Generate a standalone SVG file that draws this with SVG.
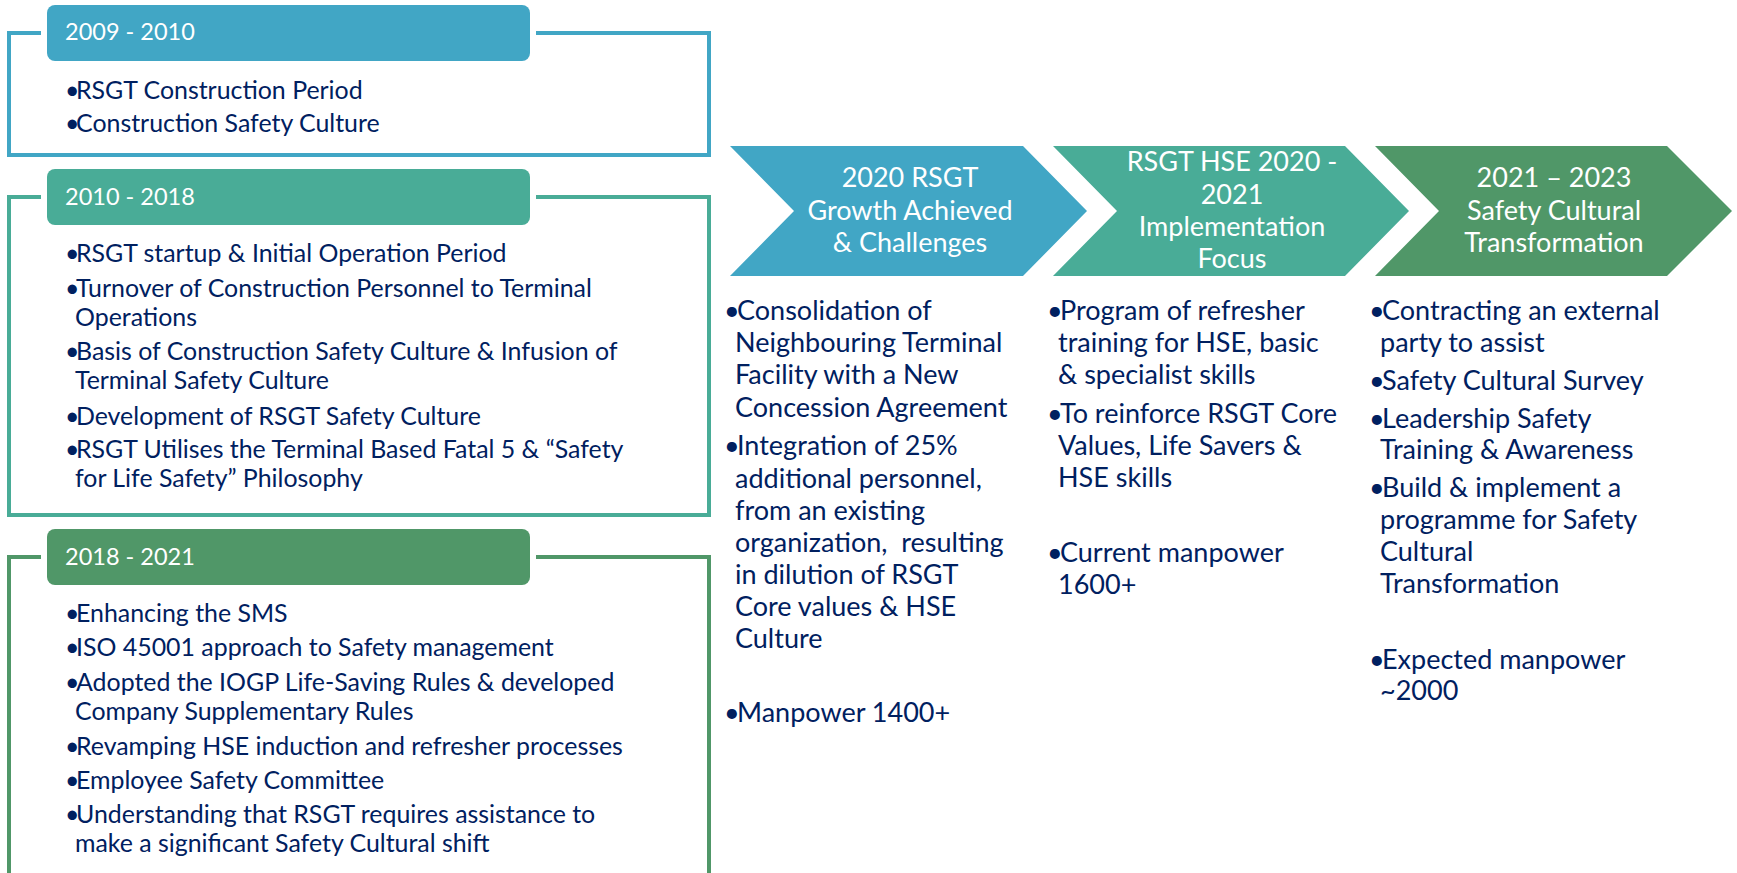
<svg xmlns="http://www.w3.org/2000/svg" width="1737" height="873" viewBox="0 0 1737 873">
<style>
.frame{fill:none;stroke-width:4}
.gap{fill:#fff}
.htxt{font-family:Lato,"Liberation Sans",sans-serif;font-size:23.5px;fill:#fff}
.btxt{font-family:Lato,"Liberation Sans",sans-serif;font-size:24.9px;fill:#002060}
.ctxt{font-family:Lato,"Liberation Sans",sans-serif;font-size:27px;fill:#002060}
.chtxt{font-family:Lato,"Liberation Sans",sans-serif;font-size:27px;fill:#fff;text-anchor:middle}
.blue{fill:#41A6C5}.teal{fill:#49AC97}.green{fill:#509768}
.sblue{stroke:#41A6C5}.steal{stroke:#49AC97}.sgreen{stroke:#509768}
</style>
<rect width="1737" height="873" fill="#fff"/>
<g id="period-2009-2010">
<rect class="frame sblue" x="9" y="33" width="700" height="122"/>
<rect class="gap" x="41" y="0" width="495" height="67" rx="10"/>
<rect class="blue" x="47" y="5" width="483" height="56" rx="8"/>
<text class="htxt" x="65" y="40">2009 - 2010</text>
<text class="btxt"><tspan x="65" y="99">•</tspan><tspan x="76" y="99">RSGT Construction Period</tspan><tspan x="65" y="132">•</tspan><tspan x="76" y="132">Construction Safety Culture</tspan></text>
</g>
<g id="period-2010-2018">
<rect class="frame steal" x="9" y="197" width="700" height="318"/>
<rect class="gap" x="41" y="163" width="495" height="68" rx="10"/>
<rect class="teal" x="47" y="169" width="483" height="56" rx="8"/>
<text class="htxt" x="65" y="205">2010 - 2018</text>
<text class="btxt"><tspan x="65" y="262">•</tspan><tspan x="76" y="262">RSGT startup &amp; Initial Operation Period</tspan><tspan x="65" y="297">•</tspan><tspan x="76" y="297">Turnover of Construction Personnel to Terminal</tspan><tspan x="75" y="326">Operations</tspan><tspan x="65" y="360">•</tspan><tspan x="76" y="360">Basis of Construction Safety Culture &amp; Infusion of</tspan><tspan x="75" y="389">Terminal Safety Culture</tspan><tspan x="65" y="425">•</tspan><tspan x="76" y="425">Development of RSGT Safety Culture</tspan><tspan x="65" y="458">•</tspan><tspan x="76" y="458">RSGT Utilises the Terminal Based Fatal 5 &amp; “Safety</tspan><tspan x="75" y="487">for Life Safety” Philosophy</tspan></text>
</g>
<g id="period-2018-2021">
<rect class="frame sgreen" x="9" y="557" width="700" height="340"/>
<rect class="gap" x="41" y="523" width="495" height="68" rx="10"/>
<rect class="green" x="47" y="529" width="483" height="56" rx="8"/>
<text class="htxt" x="65" y="565">2018 - 2021</text>
<text class="btxt"><tspan x="65" y="622">•</tspan><tspan x="76" y="622">Enhancing the SMS</tspan><tspan x="65" y="656">•</tspan><tspan x="76" y="656">ISO 45001 approach to Safety management</tspan><tspan x="65" y="691">•</tspan><tspan x="76" y="691">Adopted the IOGP Life-Saving Rules &amp; developed</tspan><tspan x="75" y="720">Company Supplementary Rules</tspan><tspan x="65" y="755">•</tspan><tspan x="76" y="755">Revamping HSE induction and refresher processes</tspan><tspan x="65" y="789">•</tspan><tspan x="76" y="789">Employee Safety Committee</tspan><tspan x="65" y="823">•</tspan><tspan x="76" y="823">Understanding that RSGT requires assistance to</tspan><tspan x="75" y="852">make a significant Safety Cultural shift</tspan></text>
</g>
<g id="stage-2020-growth">
<polygon class="blue" points="730,146 1023,146 1087,211 1023,276 730,276 794,211"/>
<text class="chtxt"><tspan x="910" y="187">2020 RSGT</tspan><tspan x="910" y="220">Growth Achieved</tspan><tspan x="910" y="252">&amp; Challenges</tspan></text>
<text class="ctxt"><tspan x="724" y="320">•</tspan><tspan x="737" y="320">Consolidation of</tspan><tspan x="735" y="352">Neighbouring Terminal</tspan><tspan x="735" y="384">Facility with a New</tspan><tspan x="735" y="417">Concession Agreement</tspan><tspan x="724" y="455">•</tspan><tspan x="737" y="455">Integration of 25%</tspan><tspan x="735" y="488">additional personnel,</tspan><tspan x="735" y="520">from an existing</tspan><tspan x="735" y="552" xml:space="preserve">organization,  resulting</tspan><tspan x="735" y="584">in dilution of RSGT</tspan><tspan x="735" y="616">Core values &amp; HSE</tspan><tspan x="735" y="648">Culture</tspan><tspan x="724" y="722">•</tspan><tspan x="737" y="722">Manpower 1400+</tspan></text>
</g>
<g id="stage-hse-2020-2021">
<polygon class="teal" points="1053,146 1345,146 1409,211 1345,276 1053,276 1117,211"/>
<text class="chtxt"><tspan x="1232" y="171">RSGT HSE 2020 -</tspan><tspan x="1232" y="204">2021</tspan><tspan x="1232" y="236">Implementation</tspan><tspan x="1232" y="268">Focus</tspan></text>
<text class="ctxt"><tspan x="1047" y="320">•</tspan><tspan x="1060" y="320">Program of refresher</tspan><tspan x="1058" y="352">training for HSE, basic</tspan><tspan x="1058" y="384">&amp; specialist skills</tspan><tspan x="1047" y="423">•</tspan><tspan x="1060" y="423">To reinforce RSGT Core</tspan><tspan x="1058" y="455">Values, Life Savers &amp;</tspan><tspan x="1058" y="487">HSE skills</tspan><tspan x="1047" y="562">•</tspan><tspan x="1060" y="562">Current manpower</tspan><tspan x="1058" y="594">1600+</tspan></text>
</g>
<g id="stage-2021-2023">
<polygon class="green" points="1375,146 1667,146 1732,211 1667,276 1375,276 1439,211"/>
<text class="chtxt"><tspan x="1554" y="187">2021 – 2023</tspan><tspan x="1554" y="220">Safety Cultural</tspan><tspan x="1554" y="252">Transformation</tspan></text>
<text class="ctxt"><tspan x="1369" y="320">•</tspan><tspan x="1382" y="320">Contracting an external</tspan><tspan x="1380" y="352">party to assist</tspan><tspan x="1369" y="390">•</tspan><tspan x="1382" y="390">Safety Cultural Survey</tspan><tspan x="1369" y="428">•</tspan><tspan x="1382" y="428">Leadership Safety</tspan><tspan x="1380" y="459">Training &amp; Awareness</tspan><tspan x="1369" y="497">•</tspan><tspan x="1382" y="497">Build &amp; implement a</tspan><tspan x="1380" y="529">programme for Safety</tspan><tspan x="1380" y="561">Cultural</tspan><tspan x="1380" y="593">Transformation</tspan><tspan x="1369" y="669">•</tspan><tspan x="1382" y="669">Expected manpower</tspan><tspan x="1380" y="700">~2000</tspan></text>
</g>
<g id="connectors"></g>
</svg>
